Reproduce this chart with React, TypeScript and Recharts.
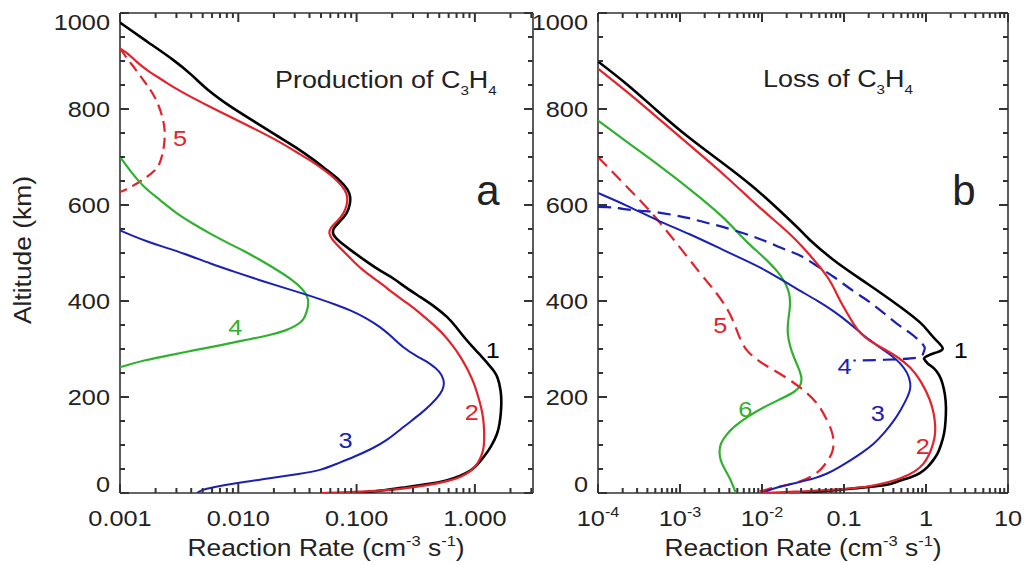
import React from "react";
import { ScatterChart, Scatter, XAxis, YAxis, ReferenceDot } from "recharts";

const FONT = "'Liberation Sans', Arial, Helvetica, sans-serif";
const INK = "#222222";
const AXIS = "#333333";
const BLACK = "#000000";
const RED = "#e3222b";
const GREEN = "#2fb12f";
const BLUE = "#1b20b4";

type Pt = [number, number]; // [altitude km, rate]

// altitude axis
const altLabels = [0, 200, 400, 600, 800, 1000];
const altTicks = Array.from({ length: 21 }, (_, i) => i * 50);

// panel a: production of C3H4
const prodDomain = [0.001, 3.1];
const prodDecades = [0.001, 0.01, 0.1, 1];
const prodLabels = [{ base: "0.001" }, { base: "0.010" }, { base: "0.100" }, { base: "1.000" }];

// panel b: loss of C3H4
const lossDomain = [1e-4, 10];
const lossDecades = [1e-4, 1e-3, 1e-2, 0.1, 1, 10];
const lossLabels = [
  { base: "10", exp: "-4" },
  { base: "10", exp: "-3" },
  { base: "10", exp: "-2" },
  { base: "0.1" },
  { base: "1" },
  { base: "10" },
];

// production curves
const prod1: Pt[] = [
  [980, 0.001], [940, 0.0017], [901, 0.0029], [870, 0.0041], [839, 0.0055], [805, 0.0085],
  [770, 0.0145], [745, 0.021], [721, 0.0305], [695, 0.043], [672, 0.0565], [651, 0.073],
  [632, 0.085], [617, 0.089], [600, 0.088], [582, 0.083], [565, 0.072], [553, 0.064],
  [541, 0.062], [528, 0.068], [506, 0.089], [481, 0.123], [462, 0.16], [447, 0.207],
  [428, 0.26], [408, 0.348], [388, 0.46], [367, 0.587], [345, 0.7], [325, 0.807],
  [305, 0.95], [291, 1.08], [270, 1.28], [255, 1.45], [242, 1.56], [214, 1.66],
  [190, 1.68], [166, 1.66], [145, 1.62], [124, 1.56], [96, 1.37], [75, 1.19],
  [60, 1.06], [46, 0.925], [35, 0.75], [26, 0.587], [18, 0.4], [13, 0.269], [6, 0.182], [0, 0.1],
];
const prod2: Pt[] = [
  [926, 0.001], [915, 0.00118], [900, 0.00135], [880, 0.0017], [860, 0.0023], [839, 0.0031],
  [804, 0.0058], [770, 0.0111], [735, 0.0213], [710, 0.031], [693, 0.0407], [672, 0.054],
  [651, 0.069], [632, 0.08], [617, 0.084], [600, 0.083], [582, 0.078], [565, 0.068],
  [553, 0.06], [541, 0.058], [528, 0.062], [510, 0.073], [490, 0.088], [464, 0.112],
  [440, 0.155], [415, 0.207], [395, 0.27], [374, 0.348], [352, 0.44], [332, 0.54],
  [305, 0.66], [283, 0.76], [255, 0.88], [228, 0.987], [200, 1.07], [179, 1.13],
  [155, 1.18], [131, 1.2], [96, 1.2], [78, 1.14], [61, 1.06], [45, 0.92], [33, 0.76],
  [24, 0.58], [16, 0.396], [10, 0.26], [6, 0.182], [2, 0.1], [0, 0.05],
];
const prod3: Pt[] = [
  [547, 0.001], [535, 0.0013], [524, 0.0017], [513, 0.0023], [500, 0.0034], [478, 0.0058],
  [460, 0.0095], [443, 0.0153], [428, 0.024], [415, 0.0357], [404, 0.049], [393, 0.066],
  [381, 0.088], [365, 0.12], [346, 0.159], [325, 0.2], [304, 0.245], [285, 0.32],
  [270, 0.42], [252, 0.51], [235, 0.55], [220, 0.545], [207, 0.515], [185, 0.43],
  [165, 0.348], [138, 0.25], [110, 0.182], [92, 0.135], [75, 0.0947], [61, 0.068],
  [47, 0.0493], [40, 0.0334], [30, 0.018], [20, 0.0091], [12, 0.0062], [6, 0.0048], [0, 0.0045],
];
const prod4: Pt[] = [
  [700, 0.001], [670, 0.00123], [637, 0.00158], [610, 0.0022], [582, 0.003], [560, 0.0042],
  [540, 0.0058], [522, 0.008], [505, 0.011], [485, 0.0155], [464, 0.0215], [443, 0.029],
  [425, 0.035], [410, 0.0385], [395, 0.0394], [378, 0.038], [360, 0.0357], [349, 0.031],
  [339, 0.0258], [328, 0.018], [318, 0.0111], [307, 0.0068], [297, 0.00418], [287, 0.0026],
  [276, 0.00158], [268, 0.0012], [262, 0.001],
];
const prod5: Pt[] = [
  [926, 0.001], [905, 0.00115], [880, 0.00138], [855, 0.00163], [832, 0.00191], [805, 0.00215],
  [776, 0.00233], [755, 0.0024], [730, 0.00238], [708, 0.0023], [686, 0.00218], [670, 0.00195],
  [658, 0.00168], [645, 0.0014], [637, 0.00122], [630, 0.00108], [627, 0.001],
];

// loss curves
const loss1: Pt[] = [
  [899, 0.0001], [850, 0.00023], [797, 0.000522], [740, 0.0013], [686, 0.0034], [640, 0.0075],
  [590, 0.016], [540, 0.0324], [526, 0.039], [485, 0.0753], [436, 0.193], [387, 0.492],
  [355, 0.85], [339, 1.04], [320, 1.3], [301, 1.6], [292, 1.3], [284, 1.0], [279, 0.95],
  [270, 1.05], [259, 1.26], [245, 1.45], [228, 1.59], [205, 1.7], [179, 1.75], [150, 1.73],
  [124, 1.66], [100, 1.52], [82, 1.38], [68, 1.22], [54, 1.04], [42, 0.85], [33, 0.652],
  [24, 0.45], [16, 0.308], [9, 0.12], [4, 0.06], [0, 0.03],
];
const loss2: Pt[] = [
  [884, 0.0001], [835, 0.00023], [783, 0.000522], [725, 0.0013], [665, 0.0034], [600, 0.0085],
  [540, 0.0222], [512, 0.0315], [480, 0.046], [450, 0.064], [420, 0.079], [395, 0.093],
  [374, 0.11], [350, 0.133], [332, 0.159], [318, 0.2], [304, 0.28], [285, 0.44],
  [262, 0.652], [235, 0.86], [193, 1.14], [165, 1.25], [138, 1.31], [115, 1.28], [96, 1.19],
  [78, 1.08], [61, 0.948], [45, 0.75], [30, 0.492], [20, 0.3], [12, 0.193], [7, 0.075],
  [3, 0.03], [0, 0.01],
];
const loss3: Pt[] = [
  [625, 0.0001], [600, 0.00022], [568, 0.000522], [540, 0.0013], [506, 0.0034], [485, 0.0062],
  [464, 0.0112], [440, 0.019], [420, 0.03], [400, 0.048], [381, 0.072], [355, 0.115],
  [332, 0.163], [315, 0.22], [297, 0.308], [285, 0.39], [270, 0.492], [250, 0.6],
  [228, 0.652], [214, 0.64], [200, 0.597], [175, 0.5], [151, 0.41], [125, 0.31],
  [103, 0.235], [85, 0.17], [68, 0.12], [54, 0.088], [40, 0.0625], [30, 0.043],
  [23, 0.0294], [12, 0.015], [0, 0.01],
];
const loss4: Pt[] = [
  [596, 0.0001], [595, 0.00015], [592, 0.0002], [588, 0.00033], [585, 0.00052], [578, 0.0009],
  [572, 0.00133], [563, 0.0021], [554, 0.0034], [540, 0.0062], [526, 0.0105], [506, 0.02],
  [495, 0.029], [475, 0.045], [450, 0.0753], [425, 0.12], [401, 0.193], [378, 0.29],
  [353, 0.44], [335, 0.62], [318, 0.82], [308, 0.93], [301, 0.966], [292, 0.93],
  [283, 0.82], [279, 0.49], [277, 0.25], [276, 0.13],
];
const loss5: Pt[] = [
  [700, 0.0001], [645, 0.000204], [589, 0.000432], [520, 0.000916], [457, 0.00177],
  [420, 0.0027], [390, 0.0036], [365, 0.0043], [340, 0.0049], [318, 0.0055], [297, 0.0064],
  [280, 0.0083], [265, 0.0112], [250, 0.016], [235, 0.0222], [207, 0.037], [180, 0.051],
  [151, 0.0625], [130, 0.071], [110, 0.0753], [90, 0.074], [75, 0.068], [58, 0.058],
  [40, 0.047], [23, 0.0294], [15, 0.018], [8, 0.0115], [0, 0.008],
];
const loss6: Pt[] = [
  [776, 0.0001], [730, 0.00023], [686, 0.000522], [630, 0.0014], [575, 0.0034], [540, 0.0052],
  [520, 0.0068], [500, 0.0092], [480, 0.0123], [460, 0.0158], [437, 0.0195], [415, 0.0218],
  [390, 0.0222], [360, 0.0208], [332, 0.0203], [305, 0.022], [283, 0.0244], [260, 0.028],
  [242, 0.0307], [225, 0.03], [212, 0.0262], [196, 0.017], [179, 0.0105], [160, 0.0068],
  [138, 0.00451], [120, 0.0036], [103, 0.0031], [85, 0.003], [68, 0.0031], [50, 0.0035],
  [30, 0.0041], [12, 0.0045], [0, 0.0048],
];

const toPts = (arr: Pt[]) => arr.map(([alt, rate]) => ({ alt, rate }));

const logTicks = (decades: number[], domain: number[]) =>
  decades
    .flatMap((d) => [1, 2, 3, 4, 5, 6, 7, 8, 9].map((m) => d * m))
    .filter((v) => v >= domain[0] * 0.999 && v <= domain[1] * 1.001);

const isDecade = (decades: number[], v: number) =>
  decades.some((d) => Math.abs(d - v) / d < 1e-6);

const prodSeries = [
  { data: prod5, color: RED, width: 2.2, dash: "11 6", curve: "basis" },
  { data: prod4, color: GREEN, width: 2.2, curve: "basis" },
  { data: prod3, color: BLUE, width: 2, curve: "basis" },
  { data: prod1, color: BLACK, width: 2.6, curve: "basis" },
  { data: prod2, color: RED, width: 2.2, curve: "basis" },
];
const lossSeries = [
  { data: loss6, color: GREEN, width: 2.2, curve: "basis" },
  { data: loss5, color: RED, width: 2.2, dash: "13 7", curve: "basis" },
  { data: loss3, color: BLUE, width: 2, curve: "basis" },
  { data: loss4, color: BLUE, width: 2.2, dash: "13 7", curve: "natural" },
  { data: loss1, color: BLACK, width: 2.6, curve: "natural" },
  { data: loss2, color: RED, width: 2.2, curve: "basis" },
];

const prodTags = [
  { text: "1", rate: 1.42, alt: 297, color: BLACK },
  { text: "2", rate: 0.943, alt: 168, color: RED },
  { text: "3", rate: 0.0807, alt: 110, color: BLUE },
  { text: "4", rate: 0.00944, alt: 345, color: GREEN },
  { text: "5", rate: 0.00322, alt: 739, color: RED },
];
const lossTags = [
  { text: "1", rate: 2.66, alt: 297, color: BLACK },
  { text: "2", rate: 0.914, alt: 97, color: RED },
  { text: "3", rate: 0.2576, alt: 166, color: BLUE },
  { text: "4", rate: 0.1016, alt: 264, color: BLUE },
  { text: "5", rate: 0.0031, alt: 349, color: RED },
  { text: "6", rate: 0.00627, alt: 176, color: GREEN },
];

// layout
const CHART_H = 565;
const Y_AXIS_W = 50;
const X_AXIS_H = 32;
const panelA = { left: 0, width: 545, margin: { top: 12, right: 11, bottom: 40, left: 70 } };
const panelB = { left: 520, width: 504, margin: { top: 12, right: 15, bottom: 40, left: 28 } };

const plotBox = (p: any) => ({
  x0: p.left + p.margin.left + Y_AXIS_W,
  x1: p.left + p.width - p.margin.right - 1,
  y0: p.margin.top + 1,
  y1: CHART_H - p.margin.bottom - X_AXIS_H,
});

function WideText({ x, y, size, sx = 1.15, anchor = "middle", fill = INK, children }: any) {
  return (
    <text
      transform={`translate(${x},${y}) scale(${sx},1)`}
      textAnchor={anchor}
      fontSize={size}
      fontFamily={FONT}
      fill={fill}
    >
      {children}
    </text>
  );
}

function XLabel(props: any) {
  const { x, y, payload, decades, labels } = props;
  const i = decades.findIndex((d: number) => Math.abs(d - payload.value) / d < 1e-6);
  if (i < 0) return <g />;
  const lab = labels[i];
  return (
    <WideText x={Number(x)} y={Number(y) + 33} size={22}>
      {lab.base}
      {lab.exp && (
        <tspan fontSize={14} dy={-9}>
          {lab.exp}
        </tspan>
      )}
    </WideText>
  );
}

function YLabel(props: any) {
  const { x, y, payload } = props;
  const v = payload.value;
  let dy = 8;
  if (v === 1000) dy = 17;
  if (v === 0) dy = -1;
  return (
    <WideText x={Number(x) - 10} y={Number(y) + dy} size={22} anchor="end">
      {String(v)}
    </WideText>
  );
}

// inward tick marks on all four sides of a panel frame
function TickFrame({ panel, domain, decades }: any) {
  const b = plotBox(panel);
  const lx0 = Math.log10(domain[0]);
  const lx1 = Math.log10(domain[1]);
  const sx = (v: number) => b.x0 + ((Math.log10(v) - lx0) / (lx1 - lx0)) * (b.x1 - b.x0);
  const sy = (a: number) => b.y1 - (a / 1000) * (b.y1 - b.y0);
  const marks: React.ReactNode[] = [];
  logTicks(decades, domain).forEach((v, i) => {
    const len = isDecade(decades, v) ? 9 : 5;
    const x = sx(v);
    marks.push(<line key={"xb" + i} x1={x} y1={b.y1} x2={x} y2={b.y1 - len} />);
    marks.push(<line key={"xt" + i} x1={x} y1={b.y0} x2={x} y2={b.y0 + len} />);
  });
  altTicks.forEach((a, i) => {
    const len = altLabels.includes(a) ? 9 : 5;
    const y = sy(a);
    marks.push(<line key={"yl" + i} x1={b.x0} y1={y} x2={b.x0 + len} y2={y} />);
    marks.push(<line key={"yr" + i} x1={b.x1} y1={y} x2={b.x1 - len} y2={y} />);
  });
  return (
    <g stroke={AXIS} strokeWidth={2} fill="none">
      {marks}
    </g>
  );
}

const NoDot = () => <g />;

function Panel({ panel, domain, decades, labels, series, tags }: any) {
  const frame = { stroke: AXIS, strokeWidth: 1.6 };
  return (
    <div style={{ position: "absolute", left: panel.left, top: 0 }}>
      <ScatterChart width={panel.width} height={CHART_H} margin={panel.margin}>
        <XAxis
          xAxisId="b"
          type="number"
          dataKey="rate"
          scale="log"
          domain={domain}
          allowDataOverflow
          ticks={decades}
          interval={0}
          tickSize={0}
          tickMargin={0}
          tickLine={false}
          axisLine={frame}
          height={X_AXIS_H}
          tick={(p: any) => <XLabel {...p} decades={decades} labels={labels} />}
        />
        <XAxis
          xAxisId="t"
          orientation="top"
          type="number"
          dataKey="rate"
          scale="log"
          domain={domain}
          allowDataOverflow
          ticks={decades}
          tick={false}
          tickLine={false}
          axisLine={frame}
          height={1}
        />
        <YAxis
          yAxisId="l"
          type="number"
          dataKey="alt"
          domain={[0, 1000]}
          allowDataOverflow
          ticks={altLabels}
          interval={0}
          tickSize={0}
          tickMargin={0}
          tickLine={false}
          axisLine={frame}
          width={Y_AXIS_W}
          tick={(p: any) => <YLabel {...p} />}
        />
        <YAxis
          yAxisId="r"
          orientation="right"
          type="number"
          dataKey="alt"
          domain={[0, 1000]}
          allowDataOverflow
          ticks={altLabels}
          tick={false}
          tickLine={false}
          axisLine={frame}
          width={1}
        />
        {series.map((s: any, k: number) => (
          <Scatter
            key={k}
            xAxisId="b"
            yAxisId="l"
            data={toPts(s.data)}
            fill={s.color}
            line={{ stroke: s.color, strokeWidth: s.width, strokeDasharray: s.dash }}
            lineJointType={s.curve}
            shape={NoDot}
            isAnimationActive={false}
          />
        ))}
        {tags.map((t: any, k: number) => (
          <ReferenceDot
            key={"t" + k}
            xAxisId="b"
            yAxisId="l"
            x={t.rate}
            y={t.alt}
            r={0}
            shape={(p: any) => (
              <WideText x={p.cx} y={p.cy + 8} size={22} fill={t.color}>
                {t.text}
              </WideText>
            )}
          />
        ))}
      </ScatterChart>
    </div>
  );
}

function Species({ x, y, prefix }: any) {
  return (
    <WideText x={x} y={y} size={23} sx={1.17} anchor="start">
      {prefix}C
      <tspan fontSize={13} dy={7}>3</tspan>
      <tspan dy={-7}>H</tspan>
      <tspan fontSize={13} dy={7}>4</tspan>
    </WideText>
  );
}

function RateTitle({ x, y }: any) {
  return (
    <WideText x={x} y={y} size={24} sx={1.1}>
      Reaction Rate (cm
      <tspan fontSize={15} dy={-10}>-3</tspan>
      <tspan dy={10}> s</tspan>
      <tspan fontSize={15} dy={-10}>-1</tspan>
      <tspan dy={10}>)</tspan>
    </WideText>
  );
}

export default function App() {
  return (
    <div
      style={{
        position: "absolute",
        left: 0,
        top: 0,
        width: 1024,
        height: 565,
        background: "#ffffff",
        overflow: "hidden",
      }}
    >
      <Panel
        panel={panelA}
        domain={prodDomain}
        decades={prodDecades}
        labels={prodLabels}
        series={prodSeries}
        tags={prodTags}
      />
      <Panel
        panel={panelB}
        domain={lossDomain}
        decades={lossDecades}
        labels={lossLabels}
        series={lossSeries}
        tags={lossTags}
      />
      <svg
        width={1024}
        height={565}
        style={{ position: "absolute", left: 0, top: 0, pointerEvents: "none" }}
      >
        <TickFrame panel={panelA} domain={prodDomain} decades={prodDecades} />
        <TickFrame panel={panelB} domain={lossDomain} decades={lossDecades} />
        <Species x={275} y={88} prefix="Production of " />
        <Species x={763} y={87} prefix="Loss of " />
        <text x={488} y={205} textAnchor="middle" fontSize={42} fontFamily={FONT} fill={INK}>
          a
        </text>
        <text x={964} y={205} textAnchor="middle" fontSize={42} fontFamily={FONT} fill={INK}>
          b
        </text>
        <RateTitle x={326} y={556} />
        <RateTitle x={803} y={556} />
        <text
          transform="translate(31,250) rotate(-90) scale(1.1,1)"
          textAnchor="middle"
          fontSize={24}
          fontFamily={FONT}
          fill={INK}
        >
          Altitude (km)
        </text>
      </svg>
    </div>
  );
}
